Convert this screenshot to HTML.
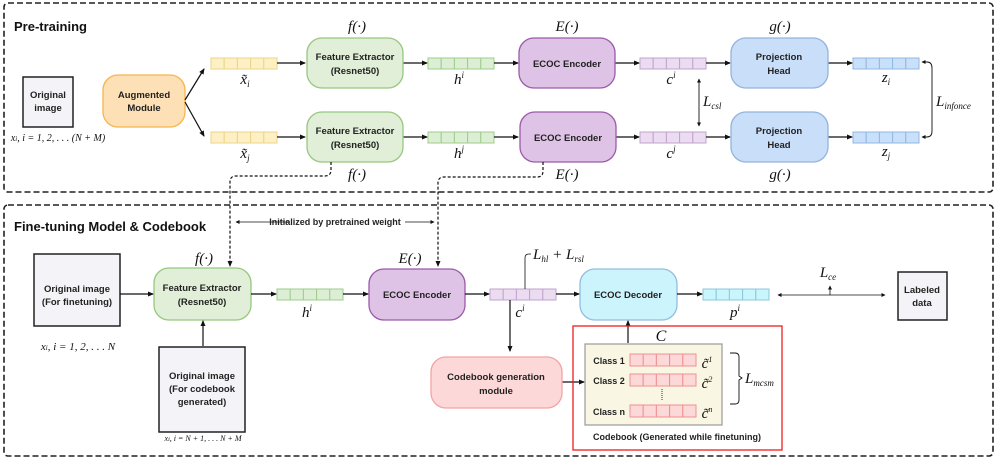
<!DOCTYPE html>
<html><head><meta charset="utf-8"><style>
html,body{margin:0;padding:0;background:#fff}
svg{display:block}
.t{font-family:"Liberation Sans",sans-serif;font-weight:bold;font-size:9.5px;fill:#222;text-anchor:middle}
.m{font-family:"Liberation Serif",serif;font-style:italic;font-size:15px;fill:#111;text-anchor:middle}
.ms{font-family:"Liberation Serif",serif;font-style:italic;font-size:10px;fill:#111;text-anchor:middle}
.h{font-family:"Liberation Sans",sans-serif;font-weight:bold;font-size:13px;fill:#111}
</style></head><body>
<svg width="997" height="460" viewBox="0 0 997 460" xmlns="http://www.w3.org/2000/svg">
<defs>
<marker id="a" markerWidth="6" markerHeight="6" refX="5" refY="3" orient="auto" markerUnits="userSpaceOnUse"><path d="M0,0.5 L6,3 L0,5.5z" fill="#111"/></marker>
<marker id="s" markerWidth="4" markerHeight="4" refX="3.5" refY="2" orient="auto-start-reverse" markerUnits="userSpaceOnUse"><path d="M0,0 L4,2 L0,4z" fill="#111"/></marker>
</defs>
<rect x="4" y="3" width="989" height="189" rx="4" fill="none" stroke="#222" stroke-width="1.6" stroke-dasharray="6,3"/>
<rect x="4" y="205" width="989" height="251" rx="4" fill="none" stroke="#222" stroke-width="1.6" stroke-dasharray="6,3"/>
<text class="h" x="14" y="31">Pre-training</text>
<text class="h" x="14" y="231">Fine-tuning  Model &amp; Codebook</text>

<g stroke-width="1">
<g fill="#fdf0c4" stroke="#ecd48a">
<rect x="211" y="58" width="13.2" height="11"/><rect x="224.2" y="58" width="13.2" height="11"/><rect x="237.4" y="58" width="13.2" height="11"/><rect x="250.6" y="58" width="13.2" height="11"/><rect x="263.8" y="58" width="13.2" height="11"/>
<rect x="211" y="132" width="13.2" height="11"/><rect x="224.2" y="132" width="13.2" height="11"/><rect x="237.4" y="132" width="13.2" height="11"/><rect x="250.6" y="132" width="13.2" height="11"/><rect x="263.8" y="132" width="13.2" height="11"/>
</g>
<g fill="#dcefd5" stroke="#9fcc8c">
<rect x="428" y="58" width="13.2" height="11"/><rect x="441.2" y="58" width="13.2" height="11"/><rect x="454.4" y="58" width="13.2" height="11"/><rect x="467.6" y="58" width="13.2" height="11"/><rect x="480.8" y="58" width="13.2" height="11"/>
<rect x="428" y="132" width="13.2" height="11"/><rect x="441.2" y="132" width="13.2" height="11"/><rect x="454.4" y="132" width="13.2" height="11"/><rect x="467.6" y="132" width="13.2" height="11"/><rect x="480.8" y="132" width="13.2" height="11"/>
<rect x="277" y="289" width="13.2" height="11"/><rect x="290.2" y="289" width="13.2" height="11"/><rect x="303.4" y="289" width="13.2" height="11"/><rect x="316.6" y="289" width="13.2" height="11"/><rect x="329.8" y="289" width="13.2" height="11"/>
</g>
<g fill="#ebdcf1" stroke="#c2a3cf">
<rect x="640" y="58" width="13.2" height="11"/><rect x="653.2" y="58" width="13.2" height="11"/><rect x="666.4" y="58" width="13.2" height="11"/><rect x="679.6" y="58" width="13.2" height="11"/><rect x="692.8" y="58" width="13.2" height="11"/>
<rect x="640" y="132" width="13.2" height="11"/><rect x="653.2" y="132" width="13.2" height="11"/><rect x="666.4" y="132" width="13.2" height="11"/><rect x="679.6" y="132" width="13.2" height="11"/><rect x="692.8" y="132" width="13.2" height="11"/>
<rect x="490" y="289" width="13.2" height="11"/><rect x="503.2" y="289" width="13.2" height="11"/><rect x="516.4" y="289" width="13.2" height="11"/><rect x="529.6" y="289" width="13.2" height="11"/><rect x="542.8" y="289" width="13.2" height="11"/>
</g>
<g fill="#c9e0fa" stroke="#93b7e0">
<rect x="853" y="58" width="13.2" height="11"/><rect x="866.2" y="58" width="13.2" height="11"/><rect x="879.4" y="58" width="13.2" height="11"/><rect x="892.6" y="58" width="13.2" height="11"/><rect x="905.8" y="58" width="13.2" height="11"/>
<rect x="853" y="132" width="13.2" height="11"/><rect x="866.2" y="132" width="13.2" height="11"/><rect x="879.4" y="132" width="13.2" height="11"/><rect x="892.6" y="132" width="13.2" height="11"/><rect x="905.8" y="132" width="13.2" height="11"/>
</g>
<g fill="#c9f5fc" stroke="#8cc7dc">
<rect x="703" y="289" width="13.2" height="11"/><rect x="716.2" y="289" width="13.2" height="11"/><rect x="729.4" y="289" width="13.2" height="11"/><rect x="742.6" y="289" width="13.2" height="11"/><rect x="755.8" y="289" width="13.2" height="11"/>
</g>
</g>

<rect x="23" y="77" width="50" height="50" fill="#f4f4f8" stroke="#222" stroke-width="1.5"/>
<text class="t" x="48" y="98">Original</text><text class="t" x="48" y="111">image</text>
<text class="ms" x="58" y="141">x<tspan font-size="7">i</tspan>, i = 1, 2, . . . (N + M)</text>
<rect x="103" y="75" width="82" height="52" rx="15" fill="#fde0b6" stroke="#f6b54a" stroke-width="1.3"/>
<text class="t" x="144" y="98">Augmented</text><text class="t" x="144" y="111">Module</text>

<g stroke="#111" stroke-width="1.2" fill="none" marker-end="url(#a)">
<line x1="185" y1="100" x2="204" y2="69"/>
<line x1="185" y1="102" x2="204" y2="136"/>
<line x1="277" y1="63" x2="305" y2="63"/>
<line x1="277" y1="137" x2="305" y2="137"/>
<line x1="403" y1="63" x2="427" y2="63"/>
<line x1="403" y1="137" x2="427" y2="137"/>
<line x1="494" y1="63" x2="518" y2="63"/>
<line x1="494" y1="137" x2="518" y2="137"/>
<line x1="615" y1="63" x2="639" y2="63"/>
<line x1="615" y1="137" x2="639" y2="137"/>
<line x1="706" y1="63" x2="730" y2="63"/>
<line x1="706" y1="137" x2="730" y2="137"/>
<line x1="828" y1="63" x2="852" y2="63"/>
<line x1="828" y1="137" x2="852" y2="137"/>
</g>
<rect x="307" y="38" width="96" height="50" rx="15" fill="#e1efd8" stroke="#97c77e" stroke-width="1.3"/>
<text class="t" x="355" y="60">Feature Extractor</text><text class="t" x="355" y="74">(Resnet50)</text>
<rect x="307" y="112" width="96" height="50" rx="15" fill="#e1efd8" stroke="#97c77e" stroke-width="1.3"/>
<text class="t" x="355" y="134">Feature Extractor</text><text class="t" x="355" y="148">(Resnet50)</text>
<rect x="519" y="38" width="96" height="50" rx="15" fill="#dfc3e6" stroke="#9b5aa9" stroke-width="1.3"/>
<text class="t" x="567" y="67">ECOC Encoder</text>
<rect x="520" y="112" width="96" height="50" rx="15" fill="#dfc3e6" stroke="#9b5aa9" stroke-width="1.3"/>
<text class="t" x="568" y="141">ECOC Encoder</text>
<rect x="731" y="38" width="97" height="50" rx="15" fill="#c9dff9" stroke="#93b3dc" stroke-width="1.3"/>
<text class="t" x="779" y="60">Projection</text><text class="t" x="779" y="74">Head</text>
<rect x="731" y="112" width="97" height="50" rx="15" fill="#c9dff9" stroke="#93b3dc" stroke-width="1.3"/>
<text class="t" x="779" y="134">Projection</text><text class="t" x="779" y="148">Head</text>

<text class="m" x="357" y="31">f(·)</text><text class="m" x="357" y="179">f(·)</text>
<text class="m" x="567" y="31">E(·)</text><text class="m" x="567" y="179">E(·)</text>
<text class="m" x="780" y="31">g(·)</text><text class="m" x="780" y="179">g(·)</text>
<text class="m" x="245" y="84">x̃<tspan font-size="9" dy="3">i</tspan></text>
<text class="m" x="245" y="158">x̃<tspan font-size="9" dy="3">j</tspan></text>
<text class="m" x="459" y="84">h<tspan font-size="9" dy="-6">i</tspan></text>
<text class="m" x="459" y="158">h<tspan font-size="9" dy="-6">j</tspan></text>
<text class="m" x="671" y="84">c<tspan font-size="9" dy="-6">i</tspan></text>
<text class="m" x="671" y="158">c<tspan font-size="9" dy="-6">j</tspan></text>
<text class="m" x="886" y="82">z<tspan font-size="9" dy="3">i</tspan></text>
<text class="m" x="886" y="156">z<tspan font-size="9" dy="3">j</tspan></text>
<line x1="699" y1="79" x2="699" y2="126" stroke="#111" stroke-width="0.9" marker-start="url(#s)" marker-end="url(#s)"/>
<text class="m" x="703" y="106" style="text-anchor:start">L<tspan font-size="9" dy="3">csl</tspan></text>
<path d="M922,62 H927 Q932,62 932,68 V131 Q932,137 927,137 H922" fill="none" stroke="#111" stroke-width="0.9" marker-start="url(#s)" marker-end="url(#s)"/>
<text class="m" x="936" y="106" style="text-anchor:start">L<tspan font-size="9" dy="3">infonce</tspan></text>

<g fill="none" stroke="#111" stroke-width="1.2" stroke-dasharray="3,2">
<path d="M331,162 V170 Q331,176 325,176 H236 Q230,176 230,182 V266" marker-end="url(#a)"/>
<path d="M543,162 V171 Q543,177 537,177 H444 Q438,177 438,183 V266" marker-end="url(#a)"/>
</g>
<line x1="290" y1="222" x2="236" y2="222" stroke="#111" stroke-width="0.8" marker-end="url(#s)"/>
<line x1="405" y1="222" x2="434" y2="222" stroke="#111" stroke-width="0.8" marker-end="url(#s)"/>
<text class="t" x="335" y="225" style="font-size:9px">Initialized by pretrained weight</text>

<rect x="34" y="254" width="86" height="72" fill="#f4f4f8" stroke="#222" stroke-width="1.5"/>
<text class="t" x="77" y="292">Original image</text><text class="t" x="77" y="305">(For finetuning)</text>
<text class="ms" x="78" y="350" style="font-size:11px">x<tspan font-size="7">i</tspan>, i = 1, 2, . . . N</text>
<rect x="159" y="347" width="86" height="85" fill="#f4f4f8" stroke="#222" stroke-width="1.5"/>
<text class="t" x="202" y="379">Original image</text><text class="t" x="202" y="392">(For codebook</text><text class="t" x="202" y="405">generated)</text>
<text class="ms" x="203" y="441" style="font-size:8px">x<tspan font-size="6">i</tspan>, i = N + 1, . . . N + M</text>
<rect x="154" y="268" width="97" height="52" rx="15" fill="#e1efd8" stroke="#97c77e" stroke-width="1.3"/>
<text class="t" x="202" y="291">Feature Extractor</text><text class="t" x="202" y="305">(Resnet50)</text>
<text class="m" x="204" y="263">f(·)</text>
<rect x="369" y="269" width="96" height="51" rx="15" fill="#dfc3e6" stroke="#9b5aa9" stroke-width="1.3"/>
<text class="t" x="417" y="298">ECOC Encoder</text>
<text class="m" x="410" y="263">E(·)</text>
<rect x="580" y="269" width="97" height="51" rx="15" fill="#ccf4fc" stroke="#93bde0" stroke-width="1.3"/>
<text class="t" x="628" y="298">ECOC Decoder</text>
<g stroke="#111" stroke-width="1.2" fill="none" marker-end="url(#a)">
<line x1="120" y1="294" x2="153" y2="294"/>
<line x1="203" y1="346" x2="203" y2="321"/>
<line x1="251" y1="294" x2="276" y2="294"/>
<line x1="343" y1="294" x2="368" y2="294"/>
<line x1="465" y1="294" x2="489" y2="294"/>
<line x1="556" y1="294" x2="579" y2="294"/>
<line x1="677" y1="294" x2="702" y2="294"/>
<line x1="510" y1="300" x2="510" y2="351"/>
<line x1="562" y1="382" x2="584" y2="382"/>
<line x1="628" y1="343" x2="628" y2="321"/>
</g>
<text class="m" x="307" y="317">h<tspan font-size="9" dy="-6">i</tspan></text>
<text class="m" x="520" y="317">c<tspan font-size="9" dy="-6">i</tspan></text>
<text class="m" x="735" y="317">p<tspan font-size="9" dy="-6">i</tspan></text>
<path d="M525,289 V258 Q525,254 529,254 H531" fill="none" stroke="#111" stroke-width="0.8"/>
<text class="m" x="533" y="259" style="text-anchor:start">L<tspan font-size="9" dy="3">hl</tspan><tspan dy="-3"> + L</tspan><tspan font-size="9" dy="3">rsl</tspan></text>
<line x1="778" y1="295" x2="885" y2="295" stroke="#111" stroke-width="0.8" marker-start="url(#s)" marker-end="url(#s)"/>
<line x1="830" y1="295" x2="830" y2="286" stroke="#111" stroke-width="0.8" marker-end="url(#s)"/>
<text class="m" x="828" y="277">L<tspan font-size="9" dy="3">ce</tspan></text>
<rect x="898" y="272" width="49" height="48" fill="#f4f4f8" stroke="#222" stroke-width="1.5"/>
<text class="t" x="922" y="293">Labeled</text><text class="t" x="922" y="306">data</text>
<rect x="431" y="357" width="131" height="51" rx="15" fill="#fdd8d8" stroke="#f3a3a3" stroke-width="1.3"/>
<text class="t" x="496" y="380">Codebook generation</text><text class="t" x="496" y="394">module</text>
<rect x="573" y="326" width="209" height="124" fill="none" stroke="#ee1c1c" stroke-width="1.3"/>
<text class="m" x="661" y="341" style="font-size:16px">C</text>
<rect x="585" y="344" width="137" height="81" fill="#f9f7e4" stroke="#999" stroke-width="1.2"/>
<text class="t" x="609" y="364" style="font-size:9px">Class 1</text>
<text class="t" x="609" y="384" style="font-size:9px">Class 2</text>
<text class="t" x="609" y="415" style="font-size:9px">Class n</text>
<g fill="#fdd8d8" stroke="#f09090">
<rect x="630" y="354" width="13.2" height="12"/><rect x="643.2" y="354" width="13.2" height="12"/><rect x="656.4" y="354" width="13.2" height="12"/><rect x="669.6" y="354" width="13.2" height="12"/><rect x="682.8" y="354" width="13.2" height="12"/>
<rect x="630" y="374" width="13.2" height="12"/><rect x="643.2" y="374" width="13.2" height="12"/><rect x="656.4" y="374" width="13.2" height="12"/><rect x="669.6" y="374" width="13.2" height="12"/><rect x="682.8" y="374" width="13.2" height="12"/>
<rect x="630" y="405" width="13.2" height="12"/><rect x="643.2" y="405" width="13.2" height="12"/><rect x="656.4" y="405" width="13.2" height="12"/><rect x="669.6" y="405" width="13.2" height="12"/><rect x="682.8" y="405" width="13.2" height="12"/>
</g>
<line x1="662" y1="389" x2="662" y2="400" stroke="#333" stroke-width="1" stroke-dasharray="1,1"/>
<text class="m" x="707" y="368">c̃<tspan font-size="8" dy="-6">1</tspan></text>
<text class="m" x="707" y="388">c̃<tspan font-size="8" dy="-6">2</tspan></text>
<text class="m" x="707" y="418">c̃<tspan font-size="8" dy="-6">n</tspan></text>
<path d="M730,353 H735 Q739,353 739,357 V376 L742,378 L739,380 V400 Q739,404 735,404 H730" fill="none" stroke="#111" stroke-width="0.9"/>
<text class="m" x="745" y="383" style="text-anchor:start">L<tspan font-size="9" dy="3">mcsm</tspan></text>
<text class="t" x="677" y="440" style="font-size:9px">Codebook (Generated while finetuning)</text>
</svg>
</body></html>
